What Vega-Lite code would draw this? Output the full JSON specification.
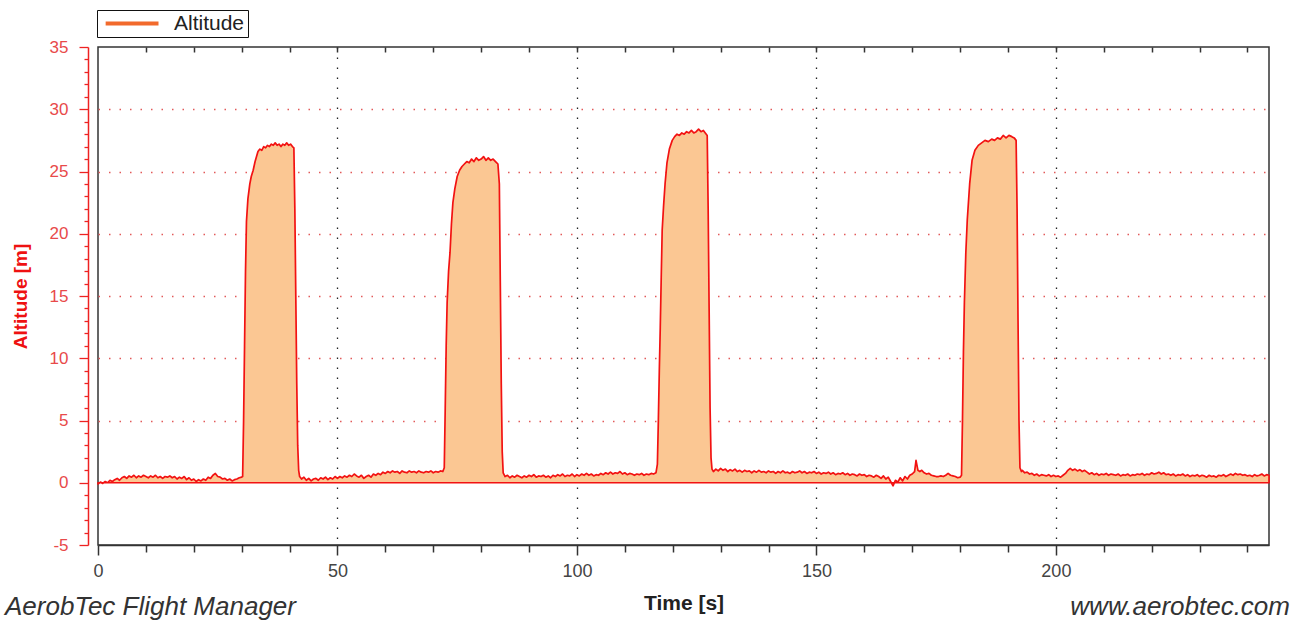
{
  "$schema": "https://vega.github.io/schema/vega-lite/v6.json",
  "width": 1171,
  "height": 498,
  "autosize": "none",
  "padding": {"left": 98, "top": 47, "right": 34, "bottom": 75},
  "background": "white",
  "config": {"view": {"stroke": "#333333", "strokeWidth": 1.5}, "font": "Liberation Sans"},
  "data": {"values": [
    {"t":0,"alt":-0.1},{"t":0.5,"alt":0.05},{"t":1,"alt":-0.05},{"t":1.5,"alt":0.1},{"t":2,"alt":0.0},{"t":2.5,"alt":0.2},{"t":3,"alt":0.1},{"t":3.5,"alt":0.25},{"t":4,"alt":0.35},{"t":4.5,"alt":0.2},
    {"t":5,"alt":0.4},{"t":5.5,"alt":0.5},{"t":6,"alt":0.35},{"t":6.5,"alt":0.55},{"t":7,"alt":0.45},{"t":7.5,"alt":0.6},{"t":8,"alt":0.4},{"t":8.5,"alt":0.55},{"t":9,"alt":0.45},{"t":9.5,"alt":0.6},
    {"t":10,"alt":0.5},{"t":10.5,"alt":0.4},{"t":11,"alt":0.55},{"t":11.5,"alt":0.45},{"t":12,"alt":0.6},{"t":12.5,"alt":0.4},{"t":13,"alt":0.5},{"t":13.5,"alt":0.35},{"t":14,"alt":0.5},{"t":14.5,"alt":0.45},
    {"t":15,"alt":0.55},{"t":15.5,"alt":0.4},{"t":16,"alt":0.5},{"t":16.5,"alt":0.3},{"t":17,"alt":0.45},{"t":17.5,"alt":0.35},{"t":18,"alt":0.5},{"t":18.5,"alt":0.25},{"t":19,"alt":0.4},{"t":19.5,"alt":0.2},
    {"t":20,"alt":0.3},{"t":20.5,"alt":0.1},{"t":21,"alt":0.25},{"t":21.5,"alt":0.15},{"t":22,"alt":0.3},{"t":22.5,"alt":0.2},{"t":23,"alt":0.45},{"t":23.5,"alt":0.35},{"t":24,"alt":0.6},{"t":24.5,"alt":0.75},
    {"t":25,"alt":0.5},{"t":25.5,"alt":0.45},{"t":26,"alt":0.3},{"t":26.5,"alt":0.35},{"t":27,"alt":0.2},{"t":27.5,"alt":0.3},{"t":28,"alt":0.15},{"t":28.5,"alt":0.25},{"t":29,"alt":0.3},{"t":29.5,"alt":0.4},
    {"t":30,"alt":0.45},{"t":30.2,"alt":0.5},{"t":30.4,"alt":5},{"t":30.6,"alt":11},{"t":30.8,"alt":17},{"t":31.0,"alt":21},{"t":31.3,"alt":22.8},{"t":31.7,"alt":24.0},{"t":32.0,"alt":24.6},{"t":32.4,"alt":25.1},
    {"t":32.8,"alt":25.8},{"t":33.1,"alt":26.2},{"t":33.4,"alt":26.6},{"t":33.8,"alt":26.8},{"t":34.2,"alt":26.7},{"t":34.6,"alt":27.0},{"t":35.0,"alt":26.9},{"t":35.4,"alt":27.1},{"t":35.8,"alt":27.0},{"t":36.2,"alt":27.2},
    {"t":36.6,"alt":27.1},{"t":37.0,"alt":27.3},{"t":37.4,"alt":27.1},{"t":37.8,"alt":27.2},{"t":38.2,"alt":27.0},{"t":38.6,"alt":27.2},{"t":39.0,"alt":27.1},{"t":39.4,"alt":27.3},{"t":39.8,"alt":27.1},{"t":40.2,"alt":27.2},
    {"t":40.6,"alt":27.0},{"t":40.9,"alt":26.9},{"t":41.1,"alt":22},{"t":41.3,"alt":15},{"t":41.5,"alt":8},{"t":41.7,"alt":3},{"t":41.9,"alt":1.0},{"t":42.1,"alt":0.5},{"t":42.5,"alt":0.3},
    {"t":43,"alt":0.45},{"t":43.5,"alt":0.2},{"t":44,"alt":0.35},{"t":44.5,"alt":0.15},{"t":45,"alt":0.3},{"t":45.5,"alt":0.35},{"t":46,"alt":0.2},{"t":46.5,"alt":0.4},{"t":47,"alt":0.3},{"t":47.5,"alt":0.45},
    {"t":48,"alt":0.25},{"t":48.5,"alt":0.4},{"t":49,"alt":0.3},{"t":49.5,"alt":0.5},{"t":50,"alt":0.35},{"t":50.5,"alt":0.5},{"t":51,"alt":0.4},{"t":51.5,"alt":0.55},{"t":52,"alt":0.45},{"t":52.5,"alt":0.6},
    {"t":53,"alt":0.5},{"t":53.5,"alt":0.7},{"t":54,"alt":0.55},{"t":54.5,"alt":0.45},{"t":55,"alt":0.6},{"t":55.5,"alt":0.35},{"t":56,"alt":0.5},{"t":56.5,"alt":0.6},{"t":57,"alt":0.45},{"t":57.5,"alt":0.7},
    {"t":58,"alt":0.6},{"t":58.5,"alt":0.75},{"t":59,"alt":0.65},{"t":59.5,"alt":0.85},{"t":60,"alt":0.75},{"t":60.5,"alt":0.9},{"t":61,"alt":0.8},{"t":61.5,"alt":0.95},{"t":62,"alt":0.85},{"t":62.5,"alt":0.9},
    {"t":63,"alt":0.75},{"t":63.5,"alt":0.95},{"t":64,"alt":0.85},{"t":64.5,"alt":0.8},{"t":65,"alt":0.95},{"t":65.5,"alt":0.85},{"t":66,"alt":0.9},{"t":66.5,"alt":0.8},{"t":67,"alt":0.95},{"t":67.5,"alt":0.85},
    {"t":68,"alt":0.8},{"t":68.5,"alt":0.9},{"t":69,"alt":0.85},{"t":69.5,"alt":0.95},{"t":70,"alt":0.8},{"t":70.5,"alt":0.9},{"t":71,"alt":0.85},{"t":71.5,"alt":0.95},
    {"t":72.0,"alt":0.9},{"t":72.3,"alt":1.2},{"t":72.5,"alt":6},{"t":72.7,"alt":11},{"t":72.9,"alt":14.5},{"t":73.2,"alt":17},{"t":73.5,"alt":18.5},{"t":73.8,"alt":20.8},{"t":74.1,"alt":22.5},{"t":74.5,"alt":23.6},
    {"t":75.0,"alt":24.6},{"t":75.5,"alt":25.1},{"t":76.0,"alt":25.4},{"t":76.5,"alt":25.6},{"t":77.0,"alt":25.8},{"t":77.5,"alt":25.7},{"t":78.0,"alt":26.0},{"t":78.5,"alt":25.8},{"t":79.0,"alt":26.1},{"t":79.5,"alt":25.9},
    {"t":80.0,"alt":26.0},{"t":80.5,"alt":26.2},{"t":81.0,"alt":25.9},{"t":81.5,"alt":26.1},{"t":82.0,"alt":25.9},{"t":82.5,"alt":26.0},{"t":83.0,"alt":25.8},{"t":83.5,"alt":25.6},{"t":83.8,"alt":24},{"t":84.0,"alt":16},
    {"t":84.2,"alt":8},{"t":84.4,"alt":2.5},{"t":84.6,"alt":0.8},{"t":85.0,"alt":0.5},
    {"t":85.5,"alt":0.6},{"t":86,"alt":0.4},{"t":86.5,"alt":0.55},{"t":87,"alt":0.45},{"t":87.5,"alt":0.6},{"t":88,"alt":0.5},{"t":88.5,"alt":0.4},{"t":89,"alt":0.55},{"t":89.5,"alt":0.45},{"t":90,"alt":0.6},
    {"t":90.5,"alt":0.5},{"t":91,"alt":0.65},{"t":91.5,"alt":0.45},{"t":92,"alt":0.55},{"t":92.5,"alt":0.5},{"t":93,"alt":0.6},{"t":93.5,"alt":0.45},{"t":94,"alt":0.55},{"t":94.5,"alt":0.4},{"t":95,"alt":0.6},
    {"t":95.5,"alt":0.5},{"t":96,"alt":0.65},{"t":96.5,"alt":0.55},{"t":97,"alt":0.7},{"t":97.5,"alt":0.5},{"t":98,"alt":0.6},{"t":98.5,"alt":0.55},{"t":99,"alt":0.7},{"t":99.5,"alt":0.5},{"t":100,"alt":0.65},
    {"t":100.5,"alt":0.55},{"t":101,"alt":0.7},{"t":101.5,"alt":0.6},{"t":102,"alt":0.75},{"t":102.5,"alt":0.6},{"t":103,"alt":0.7},{"t":103.5,"alt":0.55},{"t":104,"alt":0.65},{"t":104.5,"alt":0.6},{"t":105,"alt":0.75},
    {"t":105.5,"alt":0.65},{"t":106,"alt":0.8},{"t":106.5,"alt":0.7},{"t":107,"alt":0.85},{"t":107.5,"alt":0.7},{"t":108,"alt":0.8},{"t":108.5,"alt":0.75},{"t":109,"alt":0.9},{"t":109.5,"alt":0.7},{"t":110,"alt":0.8},
    {"t":110.5,"alt":0.65},{"t":111,"alt":0.75},{"t":111.5,"alt":0.7},{"t":112,"alt":0.6},{"t":112.5,"alt":0.7},{"t":113,"alt":0.65},{"t":113.5,"alt":0.75},{"t":114,"alt":0.6},{"t":114.5,"alt":0.7},{"t":115,"alt":0.65},
    {"t":115.5,"alt":0.75},{"t":116,"alt":0.7},{"t":116.5,"alt":0.8},
    {"t":116.8,"alt":1.5},{"t":117.0,"alt":5},{"t":117.2,"alt":9},{"t":117.4,"alt":12.5},{"t":117.6,"alt":16.5},{"t":117.8,"alt":20.3},{"t":118.1,"alt":22.3},{"t":118.4,"alt":24.0},{"t":118.8,"alt":25.7},{"t":119.3,"alt":26.8},
    {"t":119.9,"alt":27.5},{"t":120.4,"alt":27.8},{"t":120.9,"alt":28.0},{"t":121.4,"alt":27.9},{"t":121.9,"alt":28.1},{"t":122.4,"alt":28.0},{"t":122.9,"alt":28.2},{"t":123.4,"alt":28.1},{"t":123.9,"alt":28.3},{"t":124.4,"alt":28.1},
    {"t":124.9,"alt":28.2},{"t":125.4,"alt":28.4},{"t":125.9,"alt":28.2},{"t":126.4,"alt":28.3},{"t":126.8,"alt":28.1},{"t":127.2,"alt":27.9},{"t":127.4,"alt":22},{"t":127.6,"alt":14},{"t":127.8,"alt":6},{"t":128.0,"alt":2},
    {"t":128.2,"alt":1.1},{"t":128.5,"alt":0.9},
    {"t":129,"alt":1.1},{"t":129.5,"alt":0.95},{"t":130,"alt":1.15},{"t":130.5,"alt":1.0},{"t":131,"alt":1.1},{"t":131.5,"alt":0.9},{"t":132,"alt":1.05},{"t":132.5,"alt":0.95},{"t":133,"alt":1.1},{"t":133.5,"alt":0.9},
    {"t":134,"alt":1.0},{"t":134.5,"alt":0.85},{"t":135,"alt":1.0},{"t":135.5,"alt":0.9},{"t":136,"alt":0.95},{"t":136.5,"alt":0.8},{"t":137,"alt":0.95},{"t":137.5,"alt":0.85},{"t":138,"alt":1.0},{"t":138.5,"alt":0.85},
    {"t":139,"alt":0.9},{"t":139.5,"alt":0.8},{"t":140,"alt":0.95},{"t":140.5,"alt":0.85},{"t":141,"alt":0.9},{"t":141.5,"alt":0.75},{"t":142,"alt":0.9},{"t":142.5,"alt":0.8},{"t":143,"alt":0.95},{"t":143.5,"alt":0.8},
    {"t":144,"alt":0.85},{"t":144.5,"alt":0.75},{"t":145,"alt":0.9},{"t":145.5,"alt":0.8},{"t":146,"alt":0.85},{"t":146.5,"alt":0.95},{"t":147,"alt":0.8},{"t":147.5,"alt":0.9},{"t":148,"alt":0.75},{"t":148.5,"alt":0.85},
    {"t":149,"alt":0.8},{"t":149.5,"alt":0.9},{"t":150,"alt":0.75},{"t":150.5,"alt":0.85},{"t":151,"alt":0.7},{"t":151.5,"alt":0.8},{"t":152,"alt":0.75},{"t":152.5,"alt":0.85},{"t":153,"alt":0.7},{"t":153.5,"alt":0.8},
    {"t":154,"alt":0.65},{"t":154.5,"alt":0.75},{"t":155,"alt":0.7},{"t":155.5,"alt":0.8},{"t":156,"alt":0.65},{"t":156.5,"alt":0.75},{"t":157,"alt":0.6},{"t":157.5,"alt":0.7},{"t":158,"alt":0.65},{"t":158.5,"alt":0.55},
    {"t":159,"alt":0.7},{"t":159.5,"alt":0.6},{"t":160,"alt":0.65},{"t":160.5,"alt":0.5},{"t":161,"alt":0.6},{"t":161.5,"alt":0.55},{"t":162,"alt":0.45},{"t":162.5,"alt":0.6},{"t":163,"alt":0.5},{"t":163.5,"alt":0.35},
    {"t":164,"alt":0.55},{"t":164.5,"alt":0.3},{"t":165,"alt":0.45},{"t":165.5,"alt":0.1},{"t":166,"alt":-0.25},{"t":166.5,"alt":0.2},{"t":167,"alt":0.05},{"t":167.5,"alt":0.4},{"t":168,"alt":0.15},{"t":168.5,"alt":0.5},
    {"t":169,"alt":0.3},{"t":169.5,"alt":0.6},{"t":170,"alt":0.7},{"t":170.5,"alt":0.9},{"t":170.8,"alt":1.8},{"t":171.2,"alt":1.0},{"t":171.6,"alt":0.9},{"t":172,"alt":1.0},{"t":172.5,"alt":0.8},{"t":173,"alt":0.7},
    {"t":173.5,"alt":0.75},{"t":174,"alt":0.6},{"t":174.5,"alt":0.55},{"t":175,"alt":0.5},{"t":175.5,"alt":0.5},{"t":176,"alt":0.55},{"t":176.5,"alt":0.5},{"t":177,"alt":0.6},{"t":177.5,"alt":0.75},{"t":178,"alt":0.6},
    {"t":178.5,"alt":0.55},{"t":179,"alt":0.5},{"t":179.5,"alt":0.4},{"t":180,"alt":0.45},
    {"t":180.3,"alt":0.6},{"t":180.5,"alt":5},{"t":180.7,"alt":10.5},{"t":180.9,"alt":14.5},{"t":181.2,"alt":18.5},{"t":181.5,"alt":21.1},{"t":182.0,"alt":24.0},{"t":182.5,"alt":25.9},{"t":183.1,"alt":26.7},{"t":183.8,"alt":27.1},
    {"t":184.5,"alt":27.3},{"t":185.2,"alt":27.5},{"t":185.9,"alt":27.4},{"t":186.6,"alt":27.6},{"t":187.2,"alt":27.5},{"t":187.8,"alt":27.7},{"t":188.4,"alt":27.6},{"t":189.0,"alt":27.9},{"t":189.6,"alt":27.7},{"t":190.2,"alt":27.9},
    {"t":190.8,"alt":27.8},{"t":191.3,"alt":27.7},{"t":191.7,"alt":27.5},{"t":191.9,"alt":22},{"t":192.1,"alt":13},{"t":192.3,"alt":5},{"t":192.5,"alt":1.2},{"t":192.8,"alt":0.9},
    {"t":193,"alt":1.0},{"t":193.5,"alt":0.8},{"t":194,"alt":0.85},{"t":194.5,"alt":0.7},{"t":195,"alt":0.75},{"t":195.5,"alt":0.6},{"t":196,"alt":0.7},{"t":196.5,"alt":0.55},{"t":197,"alt":0.65},{"t":197.5,"alt":0.6},
    {"t":198,"alt":0.55},{"t":198.5,"alt":0.65},{"t":199,"alt":0.5},{"t":199.5,"alt":0.6},{"t":200,"alt":0.5},{"t":200.5,"alt":0.55},{"t":201,"alt":0.45},{"t":201.5,"alt":0.6},{"t":202,"alt":0.75},{"t":202.5,"alt":1.0},
    {"t":203,"alt":1.15},{"t":203.5,"alt":1.0},{"t":204,"alt":1.1},{"t":204.5,"alt":0.95},{"t":205,"alt":1.05},{"t":205.5,"alt":0.9},{"t":206,"alt":1.0},{"t":206.5,"alt":0.85},{"t":207,"alt":0.7},{"t":207.5,"alt":0.8},
    {"t":208,"alt":0.65},{"t":208.5,"alt":0.75},{"t":209,"alt":0.6},{"t":209.5,"alt":0.7},{"t":210,"alt":0.65},{"t":210.5,"alt":0.75},{"t":211,"alt":0.6},{"t":211.5,"alt":0.7},{"t":212,"alt":0.65},{"t":212.5,"alt":0.6},
    {"t":213,"alt":0.7},{"t":213.5,"alt":0.55},{"t":214,"alt":0.65},{"t":214.5,"alt":0.6},{"t":215,"alt":0.7},{"t":215.5,"alt":0.55},{"t":216,"alt":0.65},{"t":216.5,"alt":0.6},{"t":217,"alt":0.7},{"t":217.5,"alt":0.65},
    {"t":218,"alt":0.75},{"t":218.5,"alt":0.6},{"t":219,"alt":0.7},{"t":219.5,"alt":0.65},{"t":220,"alt":0.8},{"t":220.5,"alt":0.7},{"t":221,"alt":0.75},{"t":221.5,"alt":0.85},{"t":222,"alt":0.7},{"t":222.5,"alt":0.8},
    {"t":223,"alt":0.65},{"t":223.5,"alt":0.7},{"t":224,"alt":0.6},{"t":224.5,"alt":0.7},{"t":225,"alt":0.55},{"t":225.5,"alt":0.65},{"t":226,"alt":0.6},{"t":226.5,"alt":0.7},{"t":227,"alt":0.55},{"t":227.5,"alt":0.65},
    {"t":228,"alt":0.5},{"t":228.5,"alt":0.6},{"t":229,"alt":0.55},{"t":229.5,"alt":0.65},{"t":230,"alt":0.5},{"t":230.5,"alt":0.6},{"t":231,"alt":0.55},{"t":231.5,"alt":0.45},{"t":232,"alt":0.6},{"t":232.5,"alt":0.5},
    {"t":233,"alt":0.55},{"t":233.5,"alt":0.45},{"t":234,"alt":0.6},{"t":234.5,"alt":0.55},{"t":235,"alt":0.65},{"t":235.5,"alt":0.5},{"t":236,"alt":0.6},{"t":236.5,"alt":0.7},{"t":237,"alt":0.6},{"t":237.5,"alt":0.75},
    {"t":238,"alt":0.65},{"t":238.5,"alt":0.7},{"t":239,"alt":0.6},{"t":239.5,"alt":0.65},{"t":240,"alt":0.55},{"t":240.5,"alt":0.6},{"t":241,"alt":0.5},{"t":241.5,"alt":0.65},{"t":242,"alt":0.55},{"t":242.5,"alt":0.6},
    {"t":243,"alt":0.7},{"t":243.5,"alt":0.55},{"t":244,"alt":0.65},{"t":244.5,"alt":0.6}
  ]},
  "layer": [
    {
      "mark": {"type": "area", "stroke": "#F21212", "strokeWidth": 1.7, "strokeJoin": "round", "interpolate": "linear"},
      "encoding": {
        "x": {
          "field": "t", "type": "quantitative",
          "scale": {"domain": [0, 244.5], "nice": false, "zero": false},
          "axis": {
            "orient": "bottom",
            "values": [0,10,20,30,40,50,60,70,80,90,100,110,120,130,140,150,160,170,180,190,200,210,220,230,240],
            "labelExpr": "datum.value % 50 === 0 ? datum.label : ''",
            "labelOverlap": false,
            "labelFlush": false,
            "labelFontSize": 18,
            "labelColor": "#444444",
            "labelPadding": 7,
            "domainColor": "#333333",
            "domainWidth": 1.5,
            "tickColor": "#333333",
            "tickWidth": 1.5,
            "tickSize": {"condition": {"test": "datum.value % 50 === 0", "value": 10}, "value": 7},
            "grid": true,
            "gridColor": "#222222",
            "gridDash": [1.5, 8.5],
            "gridWidth": 1.3,
            "gridOpacity": {"condition": {"test": "datum.value % 50 === 0 && datum.value > 0", "value": 1}, "value": 0},
            "title": "Time [s]",
            "titleFontSize": 21,
            "titleFontWeight": "bold",
            "titleColor": "#222222",
            "titlePadding": 12
          }
        },
        "y": {
          "field": "alt", "type": "quantitative",
          "scale": {"domain": [-5, 35], "nice": false, "zero": false},
          "axis": {
            "orient": "left",
            "offset": 10,
            "values": [-5,-4,-3,-2,-1,0,1,2,3,4,5,6,7,8,9,10,11,12,13,14,15,16,17,18,19,20,21,22,23,24,25,26,27,28,29,30,31,32,33,34,35],
            "labelExpr": "datum.value % 5 === 0 ? '' + datum.value : ''",
            "labelOverlap": false,
            "labelFlush": false,
            "labelFontSize": 17,
            "labelColor": "#E84A4A",
            "labelPadding": 11,
            "domainColor": "#EE2222",
            "domainWidth": 1.5,
            "tickColor": "#EE2222",
            "tickWidth": 1.3,
            "tickSize": {"condition": {"test": "datum.value % 5 === 0", "value": 9}, "value": 4},
            "grid": true,
            "gridColor": "#E25A5A",
            "gridDash": [1.5, 9],
            "gridWidth": 1.3,
            "gridOpacity": {"condition": {"test": "datum.value % 5 === 0 && datum.value > 0 && datum.value < 35", "value": 1}, "value": 0},
            "title": "Altitude [m]",
            "titleFontSize": 19,
            "titleFontWeight": "bold",
            "titleColor": "#EE1111",
            "titlePadding": 19
          }
        },
        "color": {
          "datum": "Altitude",
          "scale": {"range": ["#FBC793"]},
          "legend": {
            "orient": "none",
            "legendX": -1,
            "legendY": -37,
            "direction": "horizontal",
            "title": null,
            "padding": 3,
            "strokeColor": "#111111",
            "fillColor": "#FFFFFF",
            "labelFontSize": 21,
            "labelColor": "#222222",
            "labelOffset": 53,
            "symbolType": "M-0.97,0H9.6",
            "symbolSize": 100,
            "symbolStrokeWidth": 4,
            "symbolStrokeColor": "#F26A2C",
            "encode": {"symbols": {"update": {"stroke": {"value": "#F26A2C"}, "strokeWidth": {"value": 4}, "fill": {"value": "transparent"}}}}
          }
        }
      }
    },
    {
      "mark": {"type": "point", "opacity": 0},
      "encoding": {
        "x": {
          "field": "t", "type": "quantitative",
          "axis": {
            "orient": "top",
            "values": [10,20,30,40,50,60,70,80,90,100,110,120,130,140,150,160,170,180,190,200,210,220,230,240],
            "labels": false,
            "domain": false,
            "grid": false,
            "tickColor": "#333333",
            "tickWidth": 1.5,
            "tickSize": -5,
            "title": null
          }
        },
        "y": {"field": "alt", "type": "quantitative", "axis": null}
      }
    },
    {
      "data": {"values": [{"label": "AerobTec Flight Manager"}]},
      "mark": {"type": "text", "align": "left", "baseline": "alphabetic", "dx": -93, "dy": 70, "fontStyle": "italic", "fontSize": 26, "color": "#333333"},
      "encoding": {
        "x": {"datum": 0, "type": "quantitative", "axis": null},
        "y": {"datum": -5, "type": "quantitative", "axis": null},
        "text": {"field": "label"}
      }
    },
    {
      "data": {"values": [{"label": "www.aerobtec.com"}]},
      "mark": {"type": "text", "align": "right", "baseline": "alphabetic", "dx": 21, "dy": 70, "fontStyle": "italic", "fontSize": 26, "color": "#333333"},
      "encoding": {
        "x": {"datum": 244.5, "type": "quantitative", "axis": null},
        "y": {"datum": -5, "type": "quantitative", "axis": null},
        "text": {"field": "label"}
      }
    }
  ],
  "resolve": {"axis": {"x": "independent", "y": "independent"}}
}
